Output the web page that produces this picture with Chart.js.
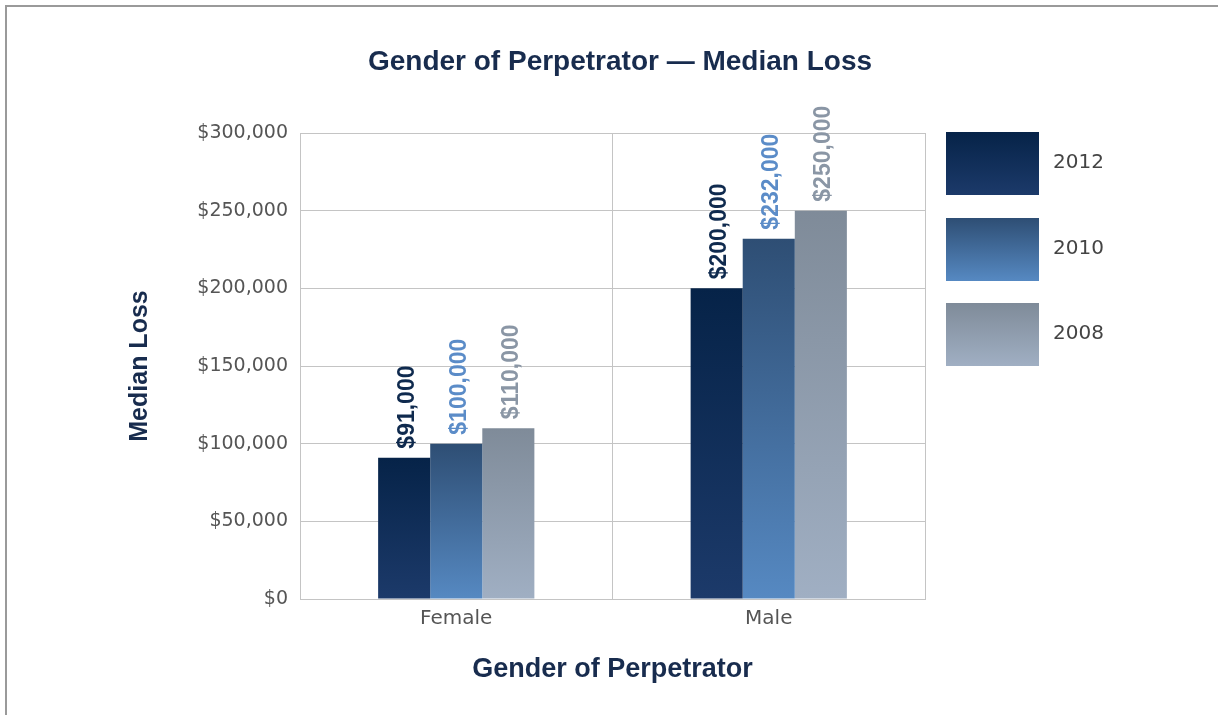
<!DOCTYPE html>
<html>
<head>
<meta charset="utf-8">
<script src="https://cdn.jsdelivr.net/npm/chart.js@4/dist/chart.umd.min.js"></script>
<style>
 body { margin: 0; background: #fff; }
 #frame { position: absolute; left: 5px; top: 5px; width: 1213px; height: 710px; border-top: 2px solid #9a9a9a; border-left: 2px solid #9a9a9a; box-sizing: border-box; }
 #wrap { position: absolute; left: 0; top: 0; width: 1218px; height: 715px; }
</style>
</head>
<body>
<div id="frame"></div>
<div id="wrap"><canvas id="gender_loss"></canvas></div>
<script>
var categories = ['Female', 'Male'];
var years = ['2012', '2010', '2008'];
var loss2012 = [91000, 200000];
var loss2010 = [100000, 232000];
var loss2008 = [110000, 250000];

// top / bottom colours of each year's gradient, plus label colour
var gradTop = ['#062348', '#2e4e74', '#7f8b99'];
var gradBottom = ['#1c3a6a', '#5689c2', '#a0afc3'];
var labelColors = ['#0f2a4e', '#5b8cc8', '#8a96a5'];

function money(v) {
 return '$' + v.toLocaleString('en-US');
}

function barFill(i) {
 return function(ctx) {
  var chart = ctx.chart;
  if (!chart.chartArea || ctx.type !== 'data') return gradTop[i];
  var y = chart.scales.y;
  var top = y.getPixelForValue(ctx.raw);
  var bottom = y.getPixelForValue(0);
  var g = chart.ctx.createLinearGradient(0, top, 0, bottom);
  g.addColorStop(0, gradTop[i]);
  g.addColorStop(1, gradBottom[i]);
  return g;
 };
}

var extras = {
 id: 'extras',
 afterDatasetsDraw: function(chart) {
  var c = chart.ctx;
  c.save();
  c.font = 'bold 23px "Liberation Sans", Arial, sans-serif';
  c.textAlign = 'left';
  c.textBaseline = 'middle';
  chart.data.datasets.forEach(function(ds, i) {
   chart.getDatasetMeta(i).data.forEach(function(bar, j) {
    c.save();
    c.translate(bar.x + 3, bar.y - 9);
    c.rotate(-Math.PI / 2);
    c.fillStyle = labelColors[i];
    c.fillText(money(ds.data[j]), 0, 0);
    c.restore();
   });
  });
  c.restore();
 },
 afterDraw: function(chart) {
  var c = chart.ctx;
  c.save();
  // title
  c.fillStyle = '#182c4e';
  c.font = 'bold 28px "Liberation Sans", Arial, sans-serif';
  c.textAlign = 'center';
  c.textBaseline = 'middle';
  c.fillText('Gender of Perpetrator \u2014 Median Loss', 620, 62);
  // legend
  var tops = [132, 218, 303];
  c.font = '20px "DejaVu Sans", sans-serif';
  c.textAlign = 'left';
  chart.data.datasets.forEach(function(ds, i) {
   var t = tops[i];
   var g = c.createLinearGradient(0, t, 0, t + 63);
   g.addColorStop(0, gradTop[i]);
   g.addColorStop(1, gradBottom[i]);
   c.fillStyle = g;
   c.fillRect(946, t, 93, 63);
   c.fillStyle = '#444';
   c.fillText(ds.label, 1053, t + 31);
  });
  c.restore();
 }
};

var config = {
 type: 'bar',
 data: {
  labels: categories,
  datasets: [
   { label: years[0], data: loss2012, backgroundColor: barFill(0) },
   { label: years[1], data: loss2010, backgroundColor: barFill(1) },
   { label: years[2], data: loss2008, backgroundColor: barFill(2) }
  ]
 },
 options: {
  responsive: true,
  maintainAspectRatio: false,
  animation: false,
  categoryPercentage: 0.5,
  barPercentage: 1.0,
  layout: { padding: { left: 0, right: 293, top: 133, bottom: 0 } },
  plugins: {
   legend: { display: false },
   title: { display: false },
   tooltip: { enabled: false }
  },
  scales: {
   x: {
    grid: { color: '#c4c4c4', drawTicks: false, offset: true },
    border: { color: '#c4c4c4' },
    ticks: { color: '#555', padding: 8, font: { family: '"DejaVu Sans", sans-serif', size: 20 } },
    title: {
     display: true,
     text: 'Gender of Perpetrator',
     color: '#182c4e',
     font: { family: '"Liberation Sans", Arial, sans-serif', size: 27, weight: 'bold' },
     padding: { top: 0, bottom: 29 }
    },
    afterFit: function(s) { s.height = 116; }
   },
   y: {
    min: 0,
    max: 300000,
    grid: { color: '#c4c4c4', drawTicks: false },
    border: { color: '#c4c4c4' },
    ticks: {
     stepSize: 50000,
     color: '#555',
     padding: 12,
     font: { family: '"DejaVu Sans", sans-serif', size: 19 },
     callback: function(v) { return money(v); }
    },
    title: {
     display: true,
     text: 'Median Loss',
     color: '#182c4e',
     font: { family: '"Liberation Sans", Arial, sans-serif', size: 25, weight: 'bold' },
     padding: { top: 125, bottom: 0 }
    },
    afterFit: function(s) { s.width = 300; }
   }
  }
 },
 plugins: [extras]
};

window.onload = function() {
 var ctx = document.getElementById('gender_loss').getContext('2d');
 window.myBar = new Chart(ctx, config);
};
</script>
</body>
</html>
